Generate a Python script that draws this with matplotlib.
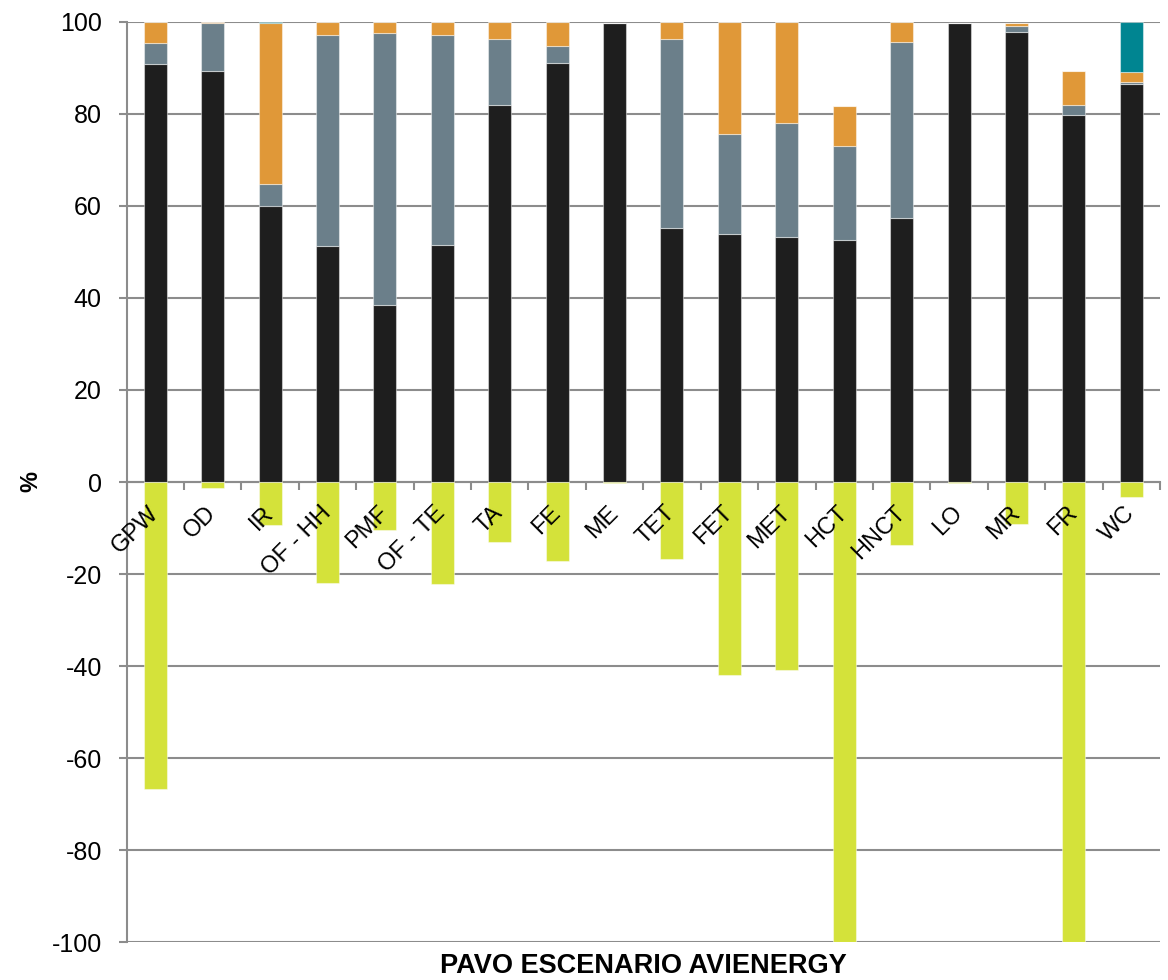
"""
Stacked bar chart: PAVO ESCENARIO AVIENERGY
Positive stacks (black / grey / orange / teal) and a negative lime series.
"""

import matplotlib
matplotlib.use("Agg")
import matplotlib.pyplot as plt
import numpy as np

# --- Data ------------------------------------------------------------------
categories = ["GPW", "OD", "IR", "OF - HH", "PMF", "OF - TE", "TA", "FE", "ME",
              "TET", "FET", "MET", "HCT", "HNCT", "LO", "MR", "FR", "WC"]

s_black  = [90.8, 89.2, 59.9, 51.3, 38.5, 51.5, 82.0, 91.1, 99.8,
            55.2, 53.9, 53.3, 52.6, 57.3, 99.8, 97.8, 79.8, 86.4]
s_grey   = [4.5, 10.5, 4.8, 45.9, 59.0, 45.7, 14.2, 3.6, 0.0,
            41.0, 21.6, 24.6, 20.4, 38.3, 0.0, 1.3, 2.0, 0.6]
s_orange = [4.7, 0.3, 35.1, 2.8, 2.5, 2.8, 3.8, 5.3, 0.0,
            3.8, 24.5, 22.1, 8.7, 4.4, 0.0, 0.7, 7.4, 2.1]
s_teal   = [0.0, 0.0, 0.2, 0.0, 0.0, 0.0, 0.0, 0.0, 0.0,
            0.0, 0.0, 0.0, 0.0, 0.0, 0.0, 0.0, 0.0, 10.9]
s_lime   = [-66.6, -1.2, -9.4, -21.9, -10.4, -22.1, -13.0, -17.1, -0.2,
            -16.7, -41.9, -40.8, -100.0, -13.7, -0.3, -9.2, -100.0, -3.2]

yticks = [-100, -80, -60, -40, -20, 0, 20, 40, 60, 80, 100]

# --- Style -----------------------------------------------------------------
C_BLACK  = "#1e1e1e"
C_GREY   = "#6b7f8a"
C_ORANGE = "#e09838"
C_TEAL   = "#008591"
C_LIME   = "#d4e23a"
C_AXIS   = "#8c8c8c"
EDGE     = (1, 1, 1, 0.45)

plt.rcParams["font.family"] = ["Liberation Sans", "DejaVu Sans"]

W, H = 1168, 980
L, R, T, B = 126.5, 1160, 21.7, 942.3
fig = plt.figure(figsize=(W / 100, H / 100), dpi=100)
ax = fig.add_axes([L / W, 1 - B / H, (R - L) / W, (B - T) / H])

x = np.arange(len(categories))
w = 0.4
b1 = np.array(s_black)
b2 = b1 + np.array(s_grey)
b3 = b2 + np.array(s_orange)

kw = dict(width=w, edgecolor=EDGE, linewidth=0.8, zorder=2)
ax.bar(x, s_black, color=C_BLACK, **kw)
ax.bar(x, s_grey, bottom=b1, color=C_GREY, **kw)
ax.bar(x, s_orange, bottom=b2, color=C_ORANGE, **kw)
ax.bar(x, s_teal, bottom=b3, color=C_TEAL, **kw)
ax.bar(x, s_lime, color=C_LIME, **kw)

ax.set_xlim(-0.5, len(categories) - 0.5)
ax.set_ylim(-100, 100)
ax.set_yticks(yticks)
ax.set_yticklabels([str(v) for v in yticks])
ax.yaxis.grid(True, color=C_AXIS, linewidth=1.5)
ax.yaxis.set_zorder(0.5)
ax.xaxis.set_zorder(5)

for side in ("top", "right"):
    ax.spines[side].set_visible(False)
ax.spines["left"].set_color(C_AXIS)
ax.spines["left"].set_linewidth(1.5)
ax.spines["bottom"].set_position(("data", 0))
ax.spines["bottom"].set_color(C_AXIS)
ax.spines["bottom"].set_linewidth(1.5)
ax.spines["bottom"].set_zorder(1)

# category labels at centres, tick marks at boundaries
ax.set_xticks(x)
ax.set_xticklabels(categories)
ax.set_xticks(np.arange(len(categories) + 1) - 0.5, minor=True)
ax.tick_params(axis="x", which="major", length=0, pad=20, labelsize=17)
ax.tick_params(axis="x", which="minor", length=5.8, width=1.5,
               color=C_AXIS, direction="out")
plt.setp(ax.get_xticklabels(), rotation=45, ha="right", va="center",
         rotation_mode="anchor")
ax.tick_params(axis="y", length=5.8, width=1.5, color=C_AXIS,
               pad=12, labelsize=18)

ax.set_xlabel("PAVO ESCENARIO AVIENERGY", fontsize=19.5, fontweight="bold")
ax.xaxis.set_label_coords(0.5, (B - 953) / (B - T))
ax.xaxis.label.set_va("top")
ax.set_ylabel("%", fontsize=17, fontweight="bold", va="center")
ax.yaxis.set_label_coords((30.5 - L) / (R - L), 0.5)

fig.savefig("out.png", dpi=100)
